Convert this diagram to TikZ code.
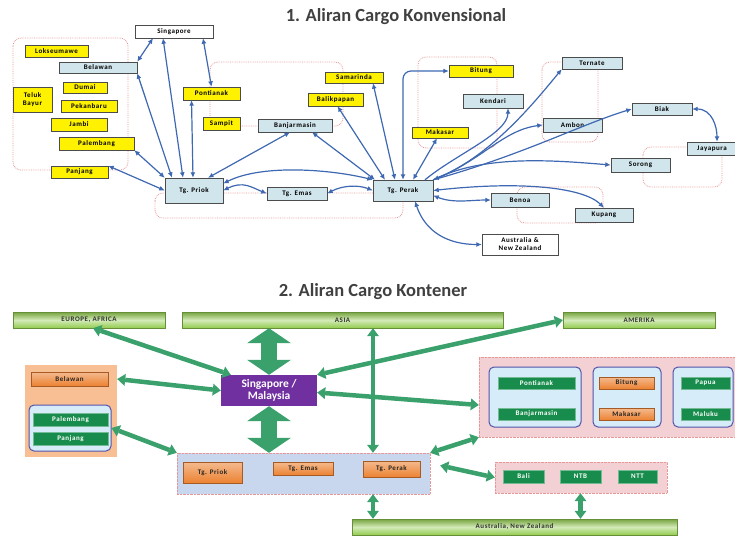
\documentclass[tikz,border=0pt]{standalone}
\usepackage{fontspec}
\setmainfont{Carlito}
\newfontfamily\lblfont[LetterSpace=8]{Carlito}
\usepackage{tikz}
\usetikzlibrary{arrows.meta,shadows}
\definecolor{bluecol}{RGB}{62,104,178}
\definecolor{boxcol}{RGB}{208,229,236}
\definecolor{dotcol}{RGB}{232,150,150}
\definecolor{titcol}{RGB}{64,64,64}
\definecolor{grncol}{RGB}{24,140,76}
\definecolor{arrcol}{RGB}{58,160,108}
\definecolor{barcol}{RGB}{146,204,78}
\definecolor{orgcol}{RGB}{236,130,50}
\definecolor{purcol}{RGB}{112,48,160}
\definecolor{westcol}{RGB}{248,190,148}
\definecolor{eastcol}{RGB}{242,208,212}
\definecolor{midcol}{RGB}{200,214,238}
\definecolor{subcol}{RGB}{214,236,248}

\begin{document}
\begin{tikzpicture}[x=1pt, y=-1pt,
  every node/.style={font=\lblfont\bfseries\fontsize{7}{8}\selectfont, inner sep=0pt, align=center},
  wh/.style 2 args={minimum width=#1, minimum height=#2},
  ttl/.style={font=\bfseries\fontsize{18.5}{20}\selectfont, text=titcol},
  reg/.style={draw=dotcol, densely dotted, line width=0.8pt, rounded corners=8pt},
  ybox/.style={draw=gray!60!black, fill=yellow, drop shadow={shadow xshift=0.8pt, shadow yshift=-0.8pt, fill=black!40}},
  bbox/.style={draw=gray!60!black, fill=boxcol, drop shadow={shadow xshift=0.8pt, shadow yshift=-0.8pt, fill=black!40}},
  wbox/.style={draw=gray!60!black, fill=white},
  barr/.style={bluecol, line width=1.2pt, >={Latex[length=5.5pt,width=5pt]}, <->},
  bar/.style={draw=barcol!70!black, top color=barcol!80!black, bottom color=barcol, middle color=barcol!40, text=black!80, font=\lblfont\bfseries\fontsize{7}{8}\selectfont},
  obox/.style={draw=orgcol!70!black, top color=orgcol!55, bottom color=orgcol, text=black!85},
  gbox/.style={draw=grncol!60, fill=grncol, text=white},
  pbox/.style={fill=purcol, text=white, font=\bfseries\fontsize{11.5}{12.5}\selectfont},
  westreg/.style={fill=westcol},
  eastreg/.style={fill=eastcol, draw=dotcol, densely dotted},
  midreg/.style={fill=midcol, draw=dotcol, densely dotted},
  subreg/.style={fill=subcol, draw=blue!35!gray, line width=1pt, rounded corners=5pt},
  garr/.style={arrcol, line width=4.5pt, >={Triangle[width=12pt,length=8pt,line width=0pt]}, <->},
  bigarr/.style={arrcol, line width=16pt, >={Triangle[width=44pt,length=15pt,line width=0pt]}, <->}]
  \useasboundingbox (0,0) rectangle (735,536);

  \node[ttl] (ttla) at (396,17) {1. Aliran Cargo Konvensional};
  \foreach \xa/\ya/\xb/\yb in {13/38/128/170, 210/62/343/126, 155/193/403/218, 418/57/497/148, 542/62/598/142, 643/147/722/187, 517/187/603/223}
    \draw[reg] (\xa,\ya) rectangle (\xb,\yb);

  \node[wbox, wh={78}{13}] (sing) at (174,31.5) {Singapore};
  \node[ybox, wh={63}{12}] (lok) at (56.5,51) {Lokseumawe};
  \node[bbox, wh={78}{11}] (bel) at (98,67.5) {Belawan};
  \node[ybox, wh={44}{11}] (dumai) at (85,87.5) {Dumai};
  \node[ybox, wh={39}{25}] (teluk) at (32.5,99.5) {Teluk\\Bayur};
  \node[ybox, wh={56}{12}] (pekan) at (89,106) {Pekanbaru};
  \node[ybox, wh={56}{13}] (jambi) at (79,124.5) {Jambi};
  \node[ybox, wh={75}{13}] (palem) at (96.5,143.5) {Palembang};
  \node[ybox, wh={57}{12}] (panj) at (79.5,172) {Panjang};
  \node[ybox, wh={57}{13}] (pont) at (211.5,93.5) {Pontianak};
  \node[ybox, wh={37}{13}] (samp) at (221.5,123.5) {Sampit};
  \node[bbox, wh={74}{13}] (banj) at (295,125.5) {Banjarmasin};
  \node[ybox, wh={58}{11}] (samar) at (354,77.5) {Samarinda};
  \node[ybox, wh={55}{13}] (balik) at (335.5,99.5) {Balikpapan};
  \node[ybox, wh={64}{12}] (bitung) at (481,71) {Bitung};
  \node[bbox, wh={60}{14}] (kend) at (493,101) {Kendari};
  \node[ybox, wh={56}{11}] (makas) at (440,132.5) {Makasar};
  \node[bbox, wh={60}{12}] (tern) at (592,63) {Ternate};
  \node[bbox, wh={59}{14}] (ambon) at (572.5,125) {Ambon};
  \node[bbox, wh={60}{12}] (biak) at (662,109) {Biak};
  \node[bbox, wh={50}{13}] (jaya) at (712,148.5) {Jayapura};
  \node[bbox, wh={59}{14}] (sorong) at (640.5,165) {Sorong};
  \node[bbox, wh={58}{14}] (benoa) at (520,200) {Benoa};
  \node[bbox, wh={58}{14}] (kupang) at (604,215) {Kupang};
  \node[bbox, wh={58}{25}] (priok) at (194,190.5) {Tg. Priok};
  \node[bbox, wh={60}{13}] (emas) at (297,193.5) {Tg. Emas};
  \node[bbox, wh={60}{21}] (perak) at (403,190.5) {Tg. Perak};
  \node[wbox, wh={76}{21}] (aus) at (520,244.5) {Australia \&\\New Zealand};

  \draw[barr] (bel.north east) -- ([xshift=-21]sing.south);
  \draw[barr] ([xshift=-11]priok.north) -- ([xshift=-11]sing.south);
  \draw[barr] ([xshift=-22]priok.north) -- (bel.south east);
  \draw[barr] ([xshift=-1]priok.north) -- ([xshift=-20]pont.south);
  \draw[barr] ([xshift=29]sing.south) -- (pont.north);
  \draw[barr] ([xshift=14]priok.north) -- ([xshift=-5]banj.south);
  \draw[barr] (priok.north west) -- (palem.south east);
  \draw[barr] (priok.west) -- (panj.north east);
  \draw[barr] (priok.east) .. controls +(20,-10) and +(-15,-6) .. (emas.west);
  \draw[barr] ([yshift=7]priok.east) .. controls +(40,-20) and +(-40,-10) .. (perak.north west);
  \draw[barr] (emas.east) .. controls +(15,-8) and +(-15,-6) .. (perak.west);
  \draw[barr] ([xshift=17]banj.south) -- ([xshift=-28]perak.north);
  \draw[barr] ([xshift=2]balik.south) -- ([xshift=-18]perak.north);
  \draw[barr] ([xshift=19]samar.south) -- ([xshift=-8]perak.north);
  \draw[barr, rounded corners=8pt] (perak.north) |- (bitung.west);
  \draw[barr] ([xshift=10]perak.north) -- ([xshift=-3]makas.south);
  \draw[barr, ->] ([xshift=22]perak.north) .. controls +(30,-25) and +(0,25) .. ([xshift=15]kend.south);
  \draw[barr] (perak.north east) .. controls +(60,-25) and +(-25,30) .. (tern.south west);
  \draw[barr, ->] (perak.north east) .. controls +(50,-20) and +(-40,5) .. (ambon.west);
  \draw[barr, ->] (perak.north east) .. controls +(90,-25) and +(-50,15) .. (biak.west);
  \draw[barr, ->] (perak.north east) .. controls +(50,-25) and +(-60,-5) .. (sorong.west);
  \draw[barr] (perak.east) .. controls +(90,-10) and +(-20,-20) .. (kupang.north);
  \draw[barr] ([yshift=-5]perak.east) .. controls +(20,8) and +(-20,0) .. (benoa.west);
  \draw[barr] ([xshift=12]perak.south) .. controls +(10,30) and +(-35,0) .. (aus.west);
  \draw[barr] (biak.east) .. controls +(20,0) and +(0,-15) .. ([xshift=5]jaya.north);

  \node[ttl] (ttlb) at (373,292) {2. Aliran Cargo Kontener};
  \node[bar, wh={152}{16}] (eur) at (89,320) {EUROPE, AFRICA};
  \node[bar, wh={321}{16}] (asia) at (342.5,320) {ASIA};
  \node[bar, wh={152}{16}] (amer) at (639,320) {AMERIKA};
  \node[bar, wh={325}{16}] (ausnz) at (514.5,527) {Australia, New Zealand};

  \node[westreg, wh={92}{92}] (west) at (71,411) {};
  \node[subreg, wh={82}{46}] (subw) at (70,428) {};
  \node[midreg, wh={253}{41}] (mid) at (303.5,473.5) {};
  \node[eastreg, wh={262}{80}] (east) at (610,397) {};
  \node[subreg, wh={92}{60}] (sub1) at (535,397) {};
  \node[subreg, wh={68}{60}] (sub2) at (627,397) {};
  \node[subreg, wh={60}{60}] (sub3) at (703,397) {};
  \node[eastreg, wh={172}{31}] (nusa) at (581,477.5) {};

  \node[obox, wh={77}{14}] (belB) at (69.5,379) {Belawan};
  \node[gbox, wh={75}{13}] (palB) at (70.5,419.5) {Palembang};
  \node[gbox, wh={75}{13}] (panB) at (70.5,438.5) {Panjang};
  \node[pbox, wh={96}{31}] (sgmy) at (269,390.5) {Singapore /\\Malaysia};
  \node[obox, wh={59}{21}] (priokB) at (212.5,472.5) {Tg. Priok};
  \node[obox, wh={60}{13}] (emasB) at (303,468.5) {Tg. Emas};
  \node[obox, wh={57}{16}] (perakB) at (391.5,469) {Tg. Perak};
  \node[gbox, wh={77}{12}] (pontB) at (536.5,383) {Pontianak};
  \node[gbox, wh={77}{12}] (banjB) at (536.5,414) {Banjarmasin};
  \node[obox, wh={55}{12}] (bitB) at (626.5,383) {Bitung};
  \node[obox, wh={55}{12}] (makB) at (626.5,414) {Makasar};
  \node[gbox, wh={49}{12}] (papB) at (705.5,383) {Papua};
  \node[gbox, wh={49}{12}] (malB) at (705.5,414) {Maluku};
  \node[gbox, wh={41}{13}] (baliB) at (523.5,476.5) {Bali};
  \node[gbox, wh={41}{13}] (ntbB) at (580.5,476.5) {NTB};
  \node[gbox, wh={39}{13}] (nttB) at (637.5,476.5) {NTT};

  \coordinate (vx) at (373,0);
  \draw[bigarr] (sgmy.north |- asia.south) -- (sgmy.north);
  \draw[bigarr] (sgmy.south) -- (sgmy.south |- mid.north);
  \draw[garr] ([xshift=4]eur.south) -- ([xshift=10]sgmy.north west);
  \draw[garr] (belB.east -| west.east) -- (sgmy.west);
  \draw[garr] (subw.east) -- (mid.north west);
  \draw[garr] (amer.west) -- (sgmy.north east);
  \draw[garr] ([yshift=-2]sgmy.east) -- ([yshift=-8]east.west);
  \draw[garr] (mid.north east) -- (east.south west);
  \draw[garr] ([xshift=10,yshift=8]mid.east) -- (nusa.west);
  \draw[garr] (vx |- asia.south) -- (vx |- mid.north);
  \draw[garr] (vx |- mid.south) -- (vx |- ausnz.north);
  \draw[garr] (ntbB.south |- nusa.south) -- (ntbB.south |- ausnz.north);
\end{tikzpicture}
\end{document}
